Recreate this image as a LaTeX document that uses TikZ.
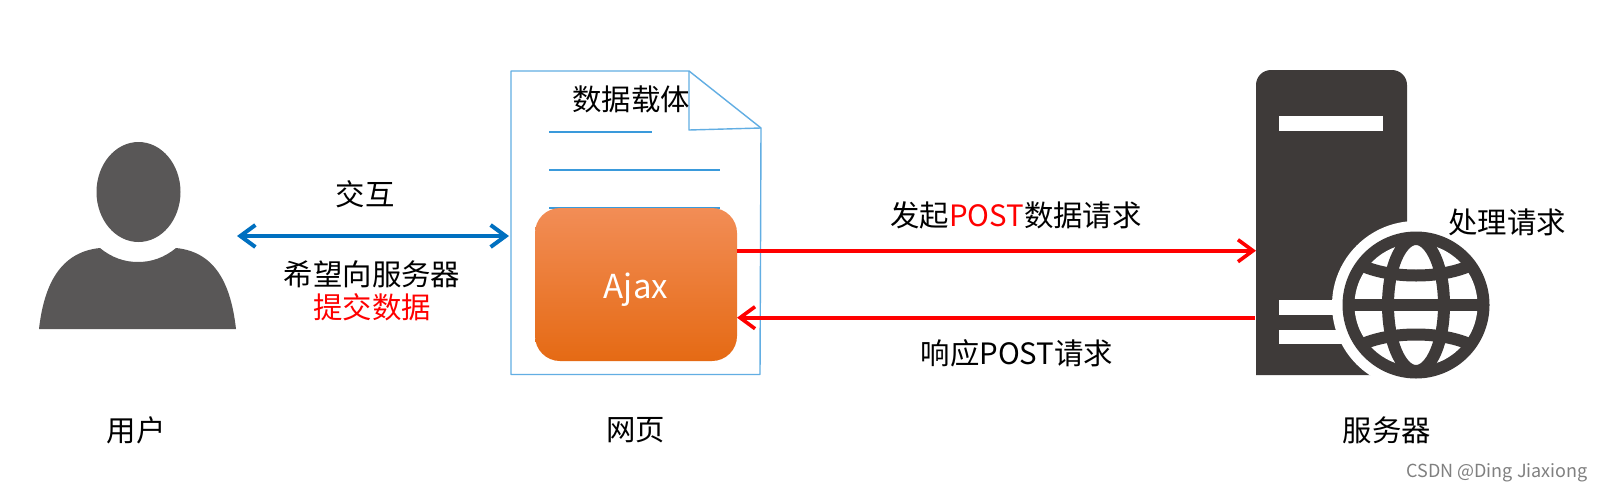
\documentclass[tikz,border=0pt]{standalone}
\usepackage{fontspec}
\setmainfont{Noto Sans CJK SC}
\usetikzlibrary{arrows.meta}
\definecolor{personc}{HTML}{595757}
\definecolor{serverc}{HTML}{3E3A39}
\definecolor{docc}{HTML}{62AEE3}
\definecolor{rulec}{HTML}{3A9ADB}
\definecolor{bluearrow}{HTML}{0070C0}
\tikzset{
  lbl/.style={inner sep=0pt,font=\fontsize{29.4}{34}\selectfont,text=black},
  docline/.style={draw=docc,line width=1.4pt,line join=round},
  rulel/.style={draw=rulec,line width=1.1pt},
  redarrow/.style={draw=red,line width=3.6pt,-{Straight Barb[length=15pt,width=22pt,line width=3.6pt]}},
  bluedouble/.style={draw=bluearrow,line width=4pt,{Straight Barb[length=15pt,width=22pt,line width=4pt]}-{Straight Barb[length=15pt,width=22pt,line width=4pt]}},
  gridline/.style={draw=serverc,line width=12pt}
}
\begin{document}
\begin{tikzpicture}[x=1pt,y=-1pt]
\useasboundingbox[fill=white] (0,0) rectangle (1603,493);
% person
\fill[personc] (138.5,192) ellipse [x radius=42,y radius=50];
\fill[personc] (39,329) .. controls (44,285) and (60,252) .. (100,248) .. controls (112,258) and (125,262) .. (138,262) .. controls (151,262) and (164,258) .. (176,248) .. controls (216,252) and (231,285) .. (236,329) -- cycle;
% document
\path[docline] (511,71) -- (689,71) -- (761,128) -- (760,374.5) -- (511,374.5) -- cycle;
\path[docline] (689,71) -- (689,130) -- (761,128);
\path[rulel] (549,132) -- (652,132);
\path[rulel] (549,170) -- (720,170);
\path[rulel] (549,208) -- (720,208);
\node[minimum width=202pt,minimum height=153pt,inner sep=0pt,rounded corners=25pt,top color={rgb,255:red,242;green,141;blue,86},middle color={rgb,255:red,245;green,124;blue,40},bottom color={rgb,255:red,229;green,106;blue,20}] (ajax) at (636,284.5) {};
\node[inner sep=0pt,text=white,font=\fontsize{33}{38}\selectfont] (ajaxlabel) at (636,289.5) {Ajax};
% server
\fill[serverc,rounded corners=15pt] (1256,375) [sharp corners] -- (1256,200) [rounded corners=15pt] -- (1256,70) -- (1407,70) -- (1407,200) [sharp corners] -- (1407,375) -- cycle;
\fill[white] (1279,116) rectangle (1383,131);
\fill[white] (1279,300) rectangle (1350,315);
\fill[white] (1279,330) rectangle (1350,344);
\fill[white] (1416,305) circle (84);
\fill[serverc] (1416,305) circle (73.5);
\fill[white] (1416,305) circle (61.5);
\begin{scope}
\clip (1416,305) circle (68);
\path[gridline] (1345,305) -- (1487,305);
\path[gridline] (1416,305) ellipse [x radius=28,y radius=66];
\path[gridline] (1355,262) .. controls (1385,280) and (1447,280) .. (1477,262);
\path[gridline] (1355,348) .. controls (1385,330) and (1447,330) .. (1477,348);
\end{scope}
\coordinate (serverIn) at (1256,250.7);
\coordinate (serverOut) at (1255,317.7);
\coordinate (ajaxOut) at (737,250.7);
\coordinate (ajaxIn) at (737,317.7);
\coordinate (userEnd) at (237,236);
\coordinate (docEnd) at (509,236);
\draw[redarrow] (ajaxOut) -- (serverIn);
\draw[redarrow] (serverOut) -- (ajaxIn);
\draw[bluedouble] (userEnd) -- (docEnd);
% labels
\node[lbl] (jh) at (365,194) {交互};
\node[lbl] (xw) at (372,274) {希望向服务器};
\node[lbl,text=red] (tj) at (372,307) {提交数据};
\node[lbl] (fq) at (1016,215) {发起\textcolor{red}{POST}数据请求};
\node[lbl] (xy) at (1017,353) {响应POST请求};
\node[lbl] (yh) at (136,430) {用户};
\node[lbl] (wy) at (635.5,430) {网页};
\node[lbl] (fw) at (1387,430) {服务器};
\node[lbl] (cl) at (1507,222) {处理请求};
\node[lbl] (sj) at (631,99) {数据载体};
\node[inner sep=0pt,font=\fontsize{18}{21}\selectfont,text=black!50] (wm) at (1497,473) {CSDN @Ding Jiaxiong};
\end{tikzpicture}
\end{document}
